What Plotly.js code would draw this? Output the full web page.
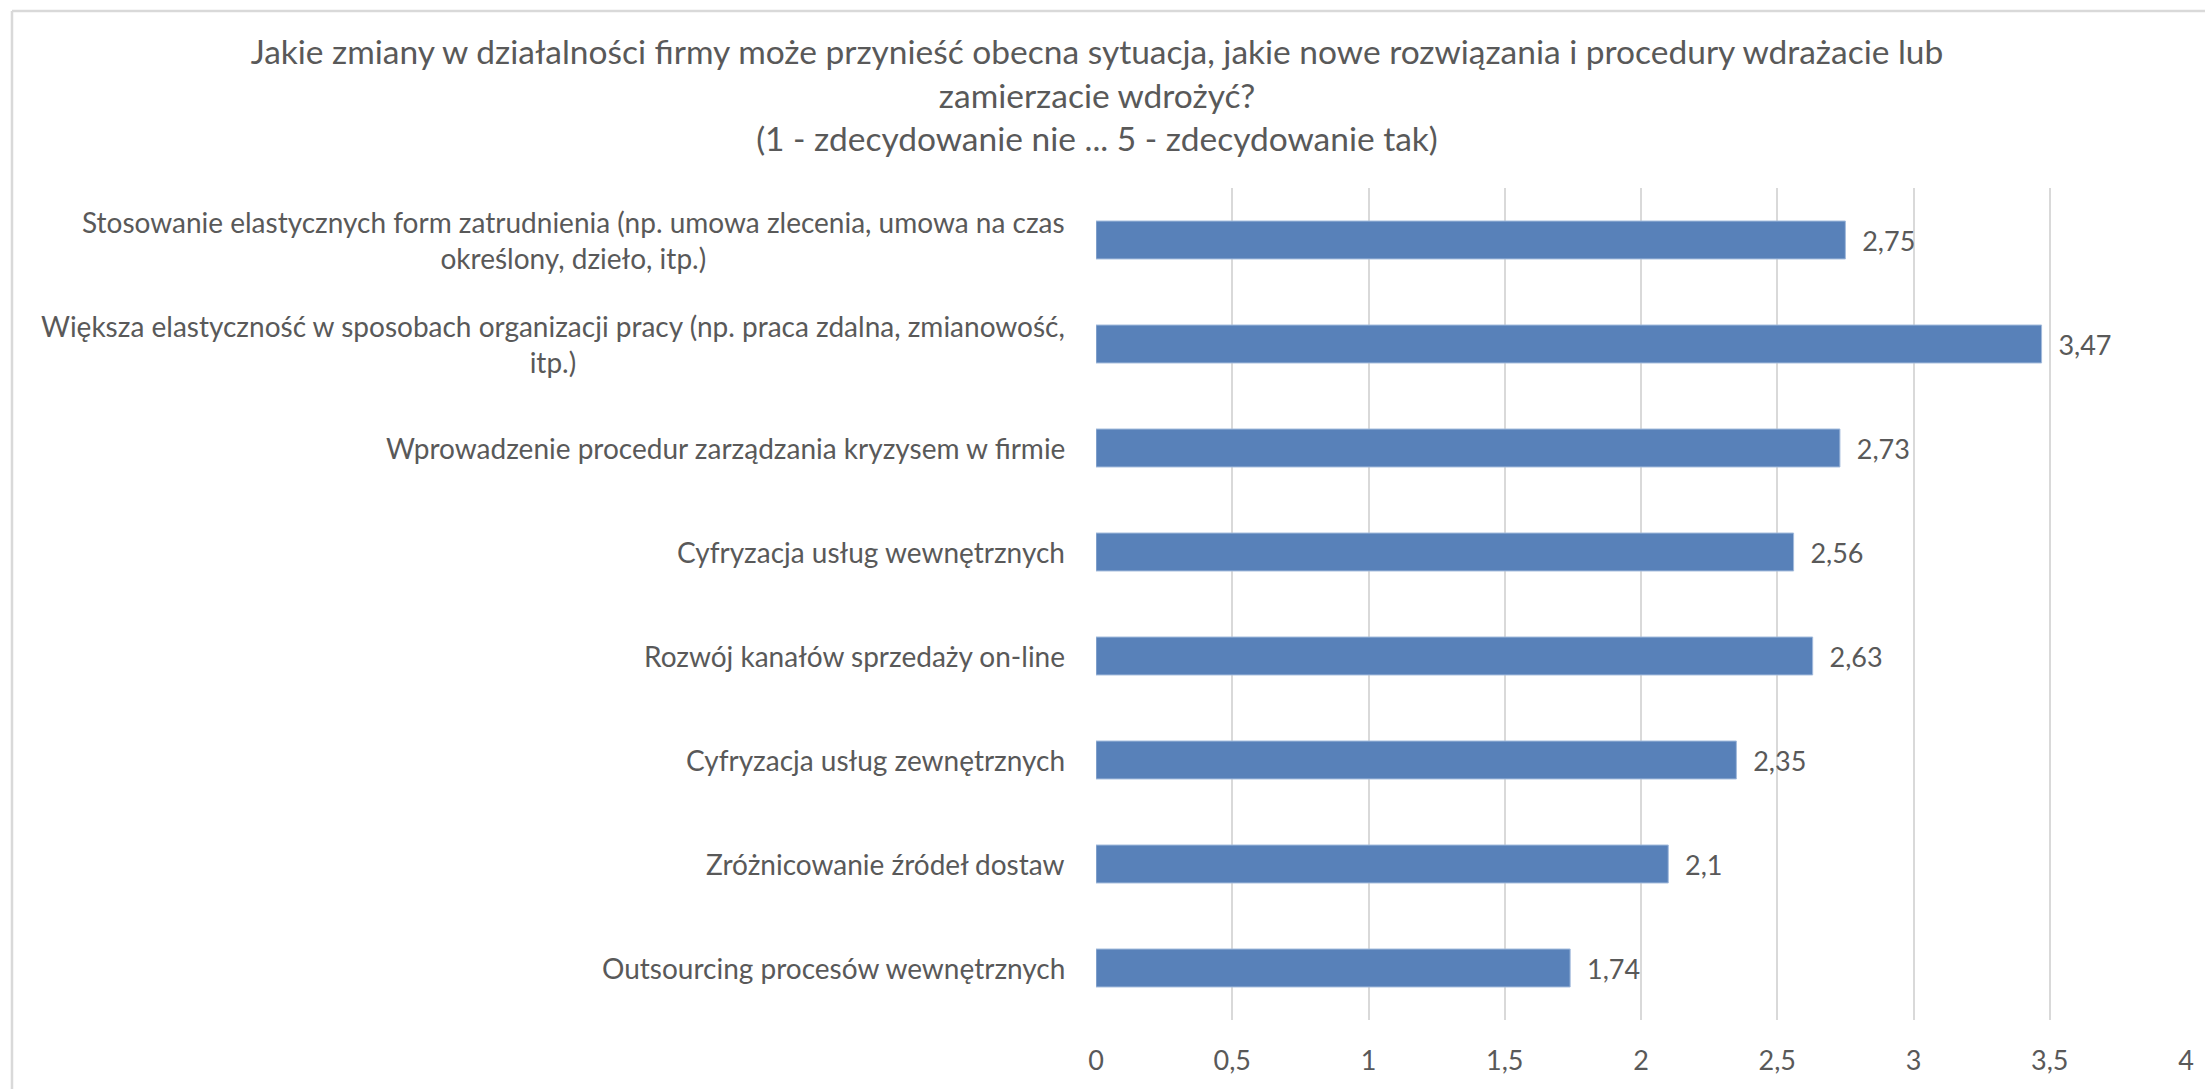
<!DOCTYPE html>
<html>
<head>
<meta charset="utf-8">
<script src="https://cdn.plot.ly/plotly-3.0.1.min.js"></script>
<style>html,body{margin:0;padding:0;background:#fff;}#chart{width:2205px;height:1089px;}</style>
</head>
<body>
<div id="chart"></div>
<script>
// Data (top to bottom)
const categories = [
  "Stosowanie elastycznych form zatrudnienia (np. umowa zlecenia, umowa na czas<br>określony, dzieło, itp.)",
  "Większa elastyczność w sposobach organizacji pracy (np. praca zdalna, zmianowość,<br>itp.)",
  "Wprowadzenie procedur zarządzania kryzysem w firmie",
  "Cyfryzacja usług wewnętrznych",
  "Rozwój kanałów sprzedaży on-line",
  "Cyfryzacja usług zewnętrznych",
  "Zróżnicowanie źródeł dostaw",
  "Outsourcing procesów wewnętrznych"
];
const values = [2.75, 3.47, 2.73, 2.56, 2.63, 2.35, 2.1, 1.74];
const xTickValues = [0, 0.5, 1, 1.5, 2, 2.5, 3, 3.5, 4];
const titleText = "Jakie zmiany w działalności firmy może przynieść obecna sytuacja, jakie nowe rozwiązania i procedury wdrażacie lub<br>zamierzacie wdrożyć?<br>(1 - zdecydowanie nie ... 5 - zdecydowanie tak)";

const FONT = "Lato, 'Open Sans', sans-serif";
const TXT = "#595959";

const labels = values.map(v => "\u00a0\u00a0" + String(v).replace('.', ','));

const trace = {
  type: 'bar',
  orientation: 'h',
  x: values,
  y: categories,
  marker: { color: '#5881b9', line: { color: '#a3bbdc', width: 1 } },
  text: labels,
  textposition: 'outside',
  cliponaxis: false,
  textfont: { family: FONT, size: 27, color: TXT },
  hoverinfo: 'x+y'
};

const annotations = categories.map(c => ({
  xref: 'paper', x: 0, yref: 'y', y: c,
  xanchor: 'right', yanchor: 'middle', xshift: -29,
  text: c, showarrow: false, align: 'center',
  font: { family: FONT, size: 28, color: TXT }
}));

const layout = {
  width: 2205, height: 1089,
  margin: { l: 1096, r: 19, t: 188, b: 69, pad: 0 },
  paper_bgcolor: '#ffffff', plot_bgcolor: '#ffffff',
  separators: ', ',
  showlegend: false,
  bargap: 0.635,
  title: {
    text: titleText,
    font: { family: FONT, size: 33.5, color: TXT },
    xref: 'container', x: 0.4975, xanchor: 'center',
    yref: 'container', y: 0.941, yanchor: 'top'
  },
  xaxis: {
    range: [0, 4], tickvals: xTickValues, ticktext: xTickValues.map(v => String(v).replace('.', ',')),
    showgrid: true, gridcolor: '#d9d9d9', gridwidth: 2,
    zeroline: false, showline: false,
    ticks: 'outside', ticklen: 17, tickcolor: 'rgba(0,0,0,0)',
    tickfont: { family: FONT, size: 27, color: TXT },
    fixedrange: true
  },
  yaxis: {
    type: 'category', autorange: 'reversed',
    showticklabels: false, showgrid: false, zeroline: false, showline: false,
    ticks: '', fixedrange: true
  },
  annotations: annotations,
  shapes: [
    { type: 'line', xref: 'paper', yref: 'paper', x0: -0.9945, x1: 1.05, y0: 1.2127, y1: 1.2127,
      line: { color: '#d9d9d9', width: 2.5 } },
    { type: 'line', xref: 'paper', yref: 'paper', x0: -0.9945, x1: -0.9945, y0: 1.2127, y1: -0.1,
      line: { color: '#d9d9d9', width: 2.5 } }
  ]
};

Plotly.newPlot('chart', [trace], layout, { displayModeBar: false, responsive: false });
</script>
</body>
</html>
